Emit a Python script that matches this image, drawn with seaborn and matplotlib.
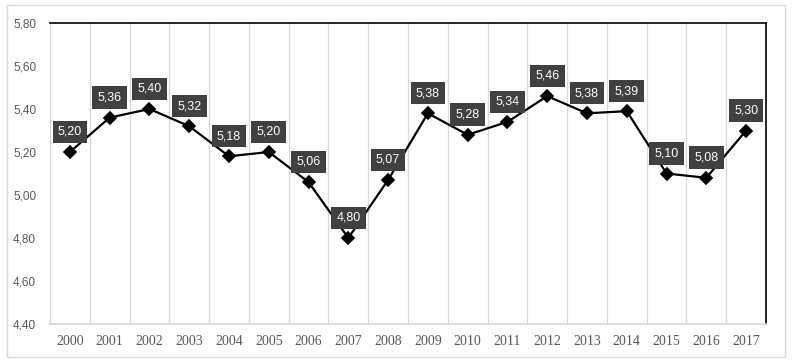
import numpy as np
import pandas as pd
import matplotlib
matplotlib.use('Agg')
import matplotlib.pyplot as plt
from matplotlib.patches import Rectangle
import seaborn as sns

# Datos
anios = ['2000', '2001', '2002', '2003', '2004', '2005', '2006', '2007', '2008',
         '2009', '2010', '2011', '2012', '2013', '2014', '2015', '2016', '2017']
valores = [5.20, 5.36, 5.40, 5.32, 5.18, 5.20, 5.06, 4.80, 5.07,
           5.38, 5.28, 5.34, 5.46, 5.38, 5.39, 5.10, 5.08, 5.30]
yticks = [4.40, 4.60, 4.80, 5.00, 5.20, 5.40, 5.60, 5.80]

df = pd.DataFrame({'anio': anios, 'valor': valores})

sns.set_theme(style='white')
plt.rcParams['font.family'] = ['Liberation Sans', 'DejaVu Sans']

fig = plt.figure(figsize=(7.92, 3.64), dpi=100)
ax = fig.add_axes([50/792, 40/364, 716/792, 301/364])

sns.pointplot(data=df, x='anio', y='valor', color='black', markers='D',
              markersize=6.5, linewidth=1.6, ax=ax, errorbar=None)

ax.set_xlim(-0.5, len(anios) - 0.5)
ax.set_ylim(4.40, 5.80)
ax.set_yticks(yticks)
ax.set_yticklabels([f'{v:.2f}'.replace('.', ',') for v in yticks],
                   color='#595959', fontsize=8.5)
ax.set_xticks(range(len(anios)))
ax.set_xticklabels(anios, color='#595959', fontsize=10, family='Liberation Serif')
ax.tick_params(axis='both', length=0, pad=8)
ax.tick_params(axis='y', pad=10)
ax.set_xlabel('')
ax.set_ylabel('')

# lineas verticales entre categorias
for k in range(len(anios)):
    ax.axvline(k - 0.5, color='#d9d9d9', linewidth=0.9, zorder=0)

ax.spines['left'].set_visible(False)
ax.spines['bottom'].set_color('#d9d9d9')
ax.spines['top'].set_color('black')
ax.spines['top'].set_linewidth(1.2)
ax.spines['right'].set_color('black')
ax.spines['right'].set_linewidth(1.2)

# etiquetas de datos
for i, v in enumerate(valores):
    ax.annotate(f'{v:.2f}'.replace('.', ','), (i, v), xytext=(0, 14.5),
                textcoords='offset points', ha='center', va='center',
                color='white', fontsize=9,
                bbox=dict(boxstyle='square,pad=0.42', fc='#404040', ec='none'))

# borde exterior
fig.patches.append(Rectangle((7/792, 7/364), 778/792, 352/364, transform=fig.transFigure,
                             fill=False, edgecolor='#d9d9d9', linewidth=1))

fig.savefig('out.png', dpi=100, facecolor='white')
